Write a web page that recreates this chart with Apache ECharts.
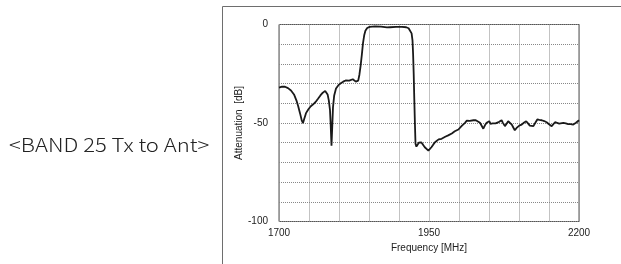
<!DOCTYPE html>
<html>
<head>
<meta charset="utf-8">
<script src="https://cdn.jsdelivr.net/npm/echarts@6/dist/echarts.min.js"></script>
<style>
  html, body { margin: 0; padding: 0; background: #fff; }
  #chart { width: 621px; height: 264px; }
</style>
</head>
<body>
<div id="chart"></div>
<script>
// frequency points (MHz) and attenuation (dB)
var freqMHz = [
  1700, 1705, 1710, 1715, 1720, 1725, 1729, 1732, 1735, 1738, 1740, 1742, 1745, 1749, 1753, 1757,
  1761, 1765, 1769, 1773, 1777, 1779, 1781, 1783, 1785, 1786, 1787.5, 1789, 1790, 1792, 1795, 1799,
  1803, 1807, 1811, 1814, 1817, 1820, 1823, 1826, 1828, 1830.5, 1832, 1834, 1836, 1838, 1840, 1842,
  1844, 1847, 1851, 1860, 1870, 1880, 1885, 1895, 1905, 1912, 1916, 1919, 1921, 1922.5, 1923.5, 1924.5,
  1925.5, 1926.5, 1927.5, 1929, 1931, 1933, 1935, 1937, 1940, 1943, 1946, 1949, 1951, 1954, 1957, 1960,
  1963, 1966, 1969, 1971, 1974, 1977, 1979, 1982, 1985, 1988, 1990, 1993, 1996, 1999, 2002, 2005,
  2008, 2010, 2013, 2015.5, 2018, 2021, 2024, 2028, 2031, 2035, 2038, 2040.5, 2043, 2046, 2048, 2050.5,
  2052.5, 2054.5, 2056, 2058, 2061, 2064, 2067, 2071, 2073, 2076.5, 2079, 2082, 2085, 2088, 2090.5, 2093,
  2096, 2099, 2101, 2104.5, 2108, 2112, 2115, 2118, 2121, 2124, 2127, 2130.5, 2134, 2138, 2142, 2146,
  2150, 2154.5, 2157, 2160, 2163, 2167, 2170, 2174, 2178, 2182, 2186, 2190.5, 2193, 2195, 2198, 2200
];
var attenDb = [
  -32.0, -31.5, -31.6, -32.3, -33.5, -35.5, -38.5, -41.5, -45.0, -48.8, -50.0, -48.0, -45.0, -43.0, -41.5, -40.5,
  -39.3, -37.7, -36.0, -34.6, -33.7, -34.0, -35.5, -38.5, -43.5, -50.0, -61.5, -50.0, -42.0, -36.0, -32.5, -30.8,
  -29.8, -29.0, -28.4, -28.0, -28.5, -28.0, -27.8, -28.6, -29.0, -29.6, -28.5, -25.5, -21.0, -15.5, -9.5, -5.5,
  -3.2, -1.8, -1.2, -1.0, -1.1, -1.5, -1.4, -1.2, -1.2, -1.4, -1.9, -2.8, -4.5, -8.0, -15.0, -25.0,
  -38.0, -50.0, -60.5, -62.0, -61.0, -60.0, -59.3, -59.8, -61.0, -62.3, -63.3, -64.0, -63.5, -62.3, -61.0, -59.8,
  -58.8, -58.3, -58.6, -58.0, -57.6, -57.0, -57.4, -56.3, -55.8, -55.3, -55.8, -54.2, -53.6, -53.3, -52.3, -51.3,
  -50.6, -49.9, -48.8, -48.2, -48.9, -49.1, -48.6, -48.6, -49.3, -49.9, -51.5, -52.9, -51.3, -49.9, -49.4, -49.1,
  -50.4, -51.3, -50.2, -49.6, -50.2, -49.9, -49.4, -48.6, -49.8, -51.6, -50.5, -49.1, -49.9, -50.8, -52.3, -53.7,
  -52.5, -51.6, -51.2, -50.8, -49.9, -49.1, -50.2, -51.3, -51.5, -51.6, -50.0, -48.2, -48.4, -48.6, -49.0, -49.6,
  -50.6, -51.6, -50.6, -49.6, -50.0, -50.3, -50.0, -49.9, -50.2, -50.6, -50.6, -50.8, -50.3, -49.9, -49.2, -48.6
];
var xTickLabels = [1700, 1950, 2200];
var yTickLabels = [0, -50, -100];

var seriesData = freqMHz.map(function (f, i) { return [f, attenDb[i]]; });

var chart = echarts.init(document.getElementById('chart'), null, { renderer: 'canvas' });
var option = {
  animation: false,
  backgroundColor: '#fff',
  graphic: [
    {
      type: 'rect',
      shape: { x: 222.5, y: 6.5, width: 420, height: 300 },
      style: { fill: 'none', stroke: '#6e6e6e', lineWidth: 1 },
      silent: true
    },
    {
      type: 'text',
      x: 9,
      y: 145,
      scaleX: 1.16,
      style: {
        text: '<BAND 25 Tx to Ant>',
        font: '300 19px "Noto Sans CJK KR"',
        fill: '#222',
        verticalAlign: 'middle'
      }
    }
  ],
  grid: {
    left: 279, top: 24.5, width: 300, height: 197,
    show: true, borderColor: '#555', borderWidth: 1,
    containLabel: false
  },
  xAxis: {
    type: 'value',
    min: 1700, max: 2200, interval: 50,
    name: 'Frequency [MHz]',
    nameLocation: 'middle',
    nameGap: 21,
    nameTextStyle: { fontFamily: 'Liberation Sans', fontSize: 10, color: '#222' },
    axisLine: { show: false },
    axisTick: { show: false },
    axisLabel: {
      margin: 7,
      fontFamily: 'Liberation Sans', fontSize: 10, color: '#222',
      formatter: function (v) { return xTickLabels.indexOf(v) >= 0 ? String(v) : ''; }
    },
    splitLine: { show: true, lineStyle: { color: '#888', type: 'dotted', width: 1 } }
  },
  yAxis: {
    type: 'value',
    min: -100, max: 0, interval: 10,
    name: 'Attenuation  [dB]',
    nameLocation: 'middle',
    nameGap: 31,
    nameTextStyle: { fontFamily: 'Liberation Sans', fontSize: 10, color: '#222' },
    axisLine: { show: false },
    axisTick: { show: false },
    axisLabel: {
      margin: 11,
      fontFamily: 'Liberation Sans', fontSize: 10, color: '#222',
      formatter: function (v) { return yTickLabels.indexOf(v) >= 0 ? String(v) : ''; }
    },
    splitLine: { show: true, lineStyle: { color: '#888', type: 'dotted', width: 1 } }
  },
  series: [
    {
      type: 'line',
      data: seriesData,
      showSymbol: false,
      smooth: false,
      lineStyle: { color: '#1a1a1a', width: 1.8 },
      clip: true
    }
  ]
};
chart.setOption(option);
</script>
</body>
</html>
